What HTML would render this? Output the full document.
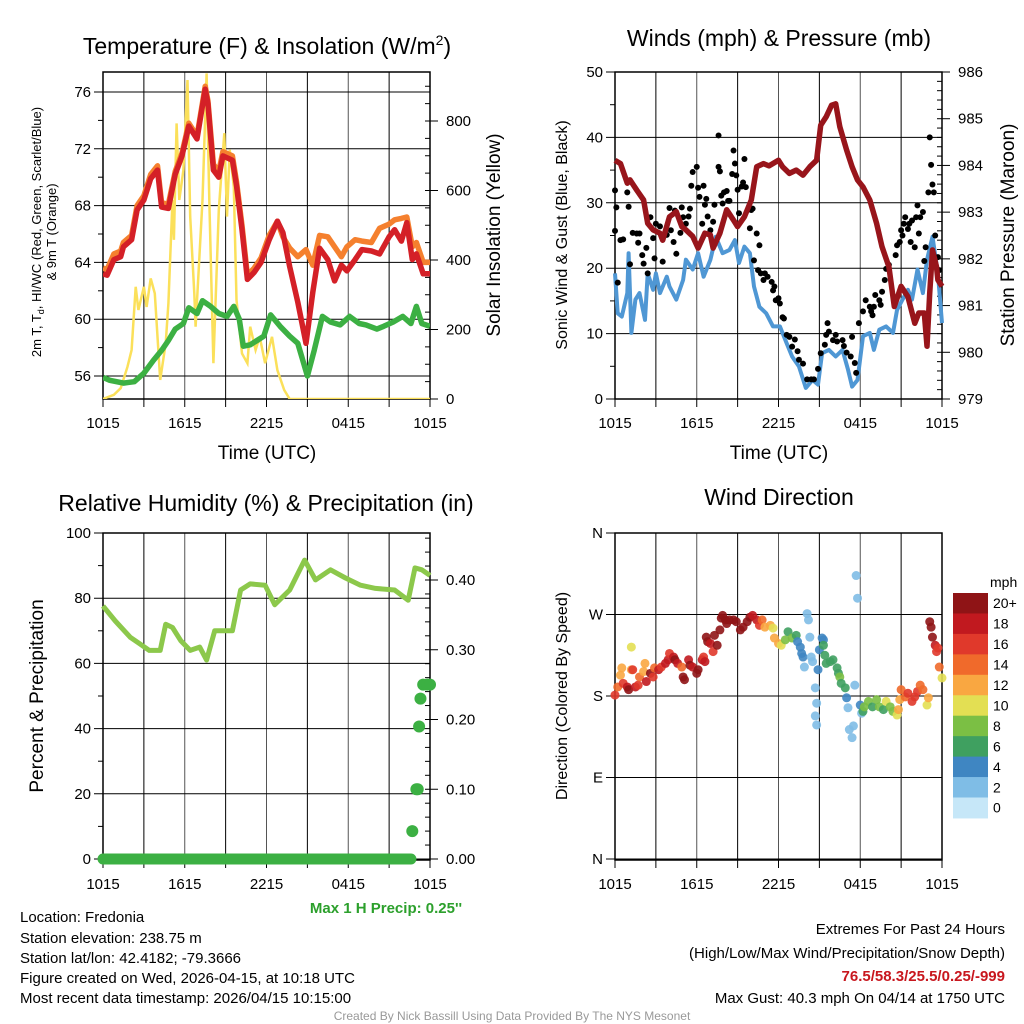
<!DOCTYPE html>
<html><head><meta charset="utf-8"><style>
body{margin:0;background:#fff}
svg{display:block;font-family:"Liberation Sans",Arial,sans-serif}
</style></head><body>
<svg id="s" width="1024" height="1024" viewBox="0 0 1024 1024">
<text x="267" y="54" font-size="23" text-anchor="middle">Temperature (F) &amp; Insolation (W/m<tspan font-size="14" dy="-9">2</tspan><tspan dy="9">)</tspan></text>
<text x="779" y="46" font-size="23" text-anchor="middle">Winds (mph) &amp; Pressure (mb)</text>
<text x="266" y="511" font-size="23" text-anchor="middle">Relative Humidity (%) &amp; Precipitation (in)</text>
<text x="779" y="505" font-size="23" text-anchor="middle">Wind Direction</text>

<text transform="translate(41,232) rotate(-90)" font-size="13" text-anchor="middle">2m T, T<tspan font-size="9" dy="3">d</tspan><tspan dy="-3">, HI/WC (Red, Green, Scarlet/Blue)</tspan></text>
<text transform="translate(56,232) rotate(-90)" font-size="13" text-anchor="middle">&amp; 9m T (Orange)</text>
<text transform="translate(500,235) rotate(-90)" font-size="19" text-anchor="middle">Solar Insolation (Yellow)</text>
<text transform="translate(567,235) rotate(-90)" font-size="16" text-anchor="middle">Sonic Wind &amp; Gust (Blue, Black)</text>
<text transform="translate(1014,235) rotate(-90)" font-size="19" text-anchor="middle">Station Pressure (Maroon)</text>
<text transform="translate(43,696) rotate(-90)" font-size="19" text-anchor="middle">Percent &amp; Precipitation</text>
<text transform="translate(567,696) rotate(-90)" font-size="16" text-anchor="middle">Direction (Colored By Speed)</text>
<text x="267" y="459" font-size="19" text-anchor="middle">Time (UTC)</text>
<text x="779" y="459" font-size="19" text-anchor="middle">Time (UTC)</text>

<text x="386" y="913" font-size="15" font-weight="bold" fill="#2ca02c" text-anchor="middle">Max 1 H Precip: 0.25''</text>
<g font-size="15">
<text x="20" y="922">Location: Fredonia</text>
<text x="20" y="943">Station elevation: 238.75 m</text>
<text x="20" y="963">Station lat/lon: 42.4182; -79.3666</text>
<text x="20" y="983">Figure created on Wed, 2026-04-15, at 10:18 UTC</text>
<text x="20" y="1003">Most recent data timestamp: 2026/04/15 10:15:00</text>
</g>
<g font-size="15" text-anchor="end">
<text x="1005" y="934">Extremes For Past 24 Hours</text>
<text x="1005" y="958">(High/Low/Max Wind/Precipitation/Snow Depth)</text>
<text x="1005" y="981" font-weight="bold" fill="#c8171e">76.5/58.3/25.5/0.25/-999</text>
<text x="1005" y="1003">Max Gust: 40.3 mph On 04/14 at 1750 UTC</text>
</g>
<text x="512" y="1020" font-size="12" fill="#999" text-anchor="middle">Created By Nick Bassill Using Data Provided By The NYS Mesonet</text>
</svg>
<script>
// ---- Temperature panel data (hours since 1015 UTC) ----
const tempHours=[0,0.3,0.8,1.3,1.5,2.1,2.5,3.0,3.5,4.0,4.3,4.8,5.3,5.8,6.3,6.9,7.5,7.7,8.1,8.5,8.8,9.5,9.8,10.2,10.6,11.1,11.6,12.2,12.8,13.2,13.7,14.3,14.9,15.4,15.9,16.5,17.0,17.5,17.9,18.5,19.0,19.7,20.3,21.0,21.4,21.9,22.3,22.7,23.0,23.5,24.0];
const tempRed=[63.2,63.1,64.2,64.4,65.1,65.6,67.7,68.4,69.9,70.5,67.9,67.8,70.2,71.5,73.6,72.7,76.2,75.2,70.5,70.0,71.5,71.2,69.4,66.3,62.8,63.3,64.0,65.6,66.9,66.1,63.7,61.2,58.3,61.9,65.0,64.2,62.7,63.8,63.4,64.2,64.9,64.8,64.6,65.8,66.3,65.5,66.8,64.2,64.6,63.2,63.2];
const tempOrange=[63.6,63.5,64.6,64.8,65.4,65.9,68.0,68.7,70.2,70.8,68.2,68.1,70.4,71.7,73.8,72.9,76.4,75.4,70.9,70.4,71.8,71.5,69.7,66.6,63.1,63.6,64.3,65.9,66.9,65.8,65.0,64.4,64.9,63.8,65.9,65.8,65.1,64.4,65.1,65.6,65.5,65.4,66.4,66.7,67.0,67.1,67.2,65.1,65.4,64.0,64.0];
const dewHours=[0,0.5,1.5,2.3,3.0,3.7,4.3,4.8,5.3,5.9,6.3,6.9,7.3,7.9,8.5,9.1,9.6,10.0,10.3,10.8,11.3,11.8,12.3,13.0,13.7,14.3,15.0,15.5,16.1,16.7,17.4,18.1,18.8,19.3,20.1,20.6,21.3,22.0,22.6,23.0,23.4,24.0];
const dewT=[55.9,55.7,55.5,55.6,56.2,57.1,57.8,58.5,59.3,59.7,60.8,60.4,61.3,60.9,60.4,60.2,60.9,60.0,58.1,58.2,58.5,58.8,60.3,59.5,58.8,58.3,56.0,57.8,60.2,59.8,59.6,60.2,59.7,59.6,59.3,59.5,59.8,60.2,59.7,60.9,59.7,59.5];
const solarHours=[0,0.8,1.3,1.8,2.1,2.4,2.6,3.0,3.2,3.5,3.8,4.2,4.6,4.8,5.1,5.2,5.4,5.6,5.9,6.2,6.4,6.7,6.8,7.3,7.6,7.8,8.1,8.5,8.9,9.1,9.3,9.6,9.8,10.2,10.6,10.8,11.2,11.5,11.9,12.4,12.8,13.3,13.7,24.0];
const solarW=[0,12,31,93,141,323,256,323,265,347,304,55,160,275,573,458,793,573,659,918,525,304,208,573,937,573,103,544,765,525,717,611,285,131,103,208,141,179,103,179,83,26,0,0];
const tempTicks=[56,60,64,68,72,76];
const solarTicks=[0,200,400,600,800];
const timeTickLabels=["1015","1615","2215","0415","1015"];
// ---- Wind panel data ----
const windHours=[0,0.2,0.5,0.9,1.0,1.2,1.5,1.8,2.2,2.4,2.8,3.0,3.3,3.8,4.0,4.5,5.0,5.2,5.7,6.1,6.5,7.0,7.4,7.9,8.4,8.8,9.1,9.5,9.9,10.2,10.6,11.1,11.6,12.1,12.6,13.0,13.5,14.0,14.5,14.9,15.2,15.7,16.2,16.7,17.1,17.4,17.8,18.2,18.7,19.0,19.4,19.9,20.4,20.7,21.1,21.5,21.8,22.2,22.6,22.9,23.3,23.7,24.0];
const windMph=[19.2,13.1,12.6,16.2,22.3,10.1,15.2,16.2,12.1,19.2,16.7,19.2,16.2,18.7,17.2,15.2,18.2,21.3,19.8,22.3,18.7,21.3,24.8,22.3,22.8,24.3,20.8,23.3,22.3,17.2,14.1,13.1,11.1,11.1,8.5,6.5,5.0,1.7,2.9,2.2,7.0,7.5,6.5,7.5,4.5,1.9,2.9,9.6,10.1,7.5,10.6,11.1,10.1,13.6,15.2,16.7,15.2,19.8,16.2,21.3,24.8,19.2,11.6];
const gustHours=[0.0,0.1,0.0,0.2,0.4,0.6,0.9,1.0,1.1,1.3,1.6,1.7,1.8,2.0,2.1,2.3,2.4,2.6,2.8,2.9,3.0,3.3,3.5,3.8,4.0,4.1,4.3,4.4,4.5,4.8,4.9,5.0,5.2,5.4,5.5,5.6,5.7,6.0,6.1,6.2,6.4,6.5,6.6,6.7,6.8,7.0,7.2,7.3,7.6,7.6,7.7,7.8,7.9,8.0,8.2,8.3,8.4,8.6,8.7,8.8,8.9,9.0,9.1,9.3,9.4,9.5,9.6,9.9,10.0,10.1,10.2,10.4,10.5,10.6,10.7,10.9,11.0,11.2,11.5,11.6,11.7,11.8,12.0,12.1,12.3,12.4,12.6,12.8,13.0,13.2,13.4,13.5,13.8,14.1,14.4,14.6,14.9,15.1,15.4,15.5,15.6,15.7,16.0,16.2,16.3,16.7,16.8,17.0,17.3,17.4,17.6,17.7,17.9,18.2,18.4,18.7,18.8,18.9,19.0,19.1,19.4,19.5,19.6,19.8,19.9,20.1,20.6,20.7,20.9,21.0,21.1,21.2,21.3,21.5,21.6,21.7,21.8,22.0,22.1,22.2,22.3,22.4,22.6,22.7,22.8,23.0,23.1,23.2,23.3,23.4,23.5,23.7,23.8];
const gustMph=[31.9,29.3,25.7,17.8,24.3,24.4,31.6,29.4,20.6,25.4,25.3,23.9,25.3,22.0,20.7,23.1,19.2,27.8,24.6,21.5,26.8,26.4,21.0,25.1,29.2,25.8,24.0,28.8,22.2,25.4,29.3,27.8,26.8,27.9,29.1,32.6,34.7,35.5,32.3,30.9,26.8,32.6,29.7,30.6,27.9,25.8,27.1,29.7,40.3,35.5,34.8,31.1,29.9,31.6,31.8,30.3,30.3,34.4,38.0,36.0,34.2,32.0,28.4,32.5,33.1,36.7,32.4,26.1,28.9,29.1,21.2,25.3,19.7,23.5,19.2,18.2,19.2,18.7,17.9,16.6,17.2,15.1,15.4,14.6,12.5,12.3,9.8,9.5,8.0,9.1,7.3,6.0,5.4,3.0,3.0,3.0,4.6,7.0,8.3,9.8,11.6,10.3,9.0,9.8,8.8,9.0,8.1,7.1,6.5,9.5,5.5,4.0,11.6,13.4,15.1,14.1,13.4,12.8,14.1,15.9,15.1,14.4,16.4,18.2,19.9,20.5,22.0,23.5,24.0,25.8,25.0,26.8,27.8,26.0,26.8,24.0,27.3,23.2,27.8,29.6,25.3,27.8,28.6,21.1,23.2,31.6,40.0,35.8,32.8,31.6,25.0,21.7,19.7];
const presHours=[0,0.4,0.9,1.1,1.6,2.1,2.4,2.8,3.3,3.5,4.0,4.5,4.9,5.2,5.7,6.1,6.6,7.0,7.2,7.7,8.2,8.7,9.0,9.5,10.0,10.4,10.9,11.3,12.0,12.3,12.8,13.3,13.8,14.3,14.8,15.1,15.5,15.9,16.2,16.5,17.0,17.4,17.8,18.2,18.7,19.2,19.6,20.1,20.5,21.0,21.5,22.0,22.3,22.7,22.9,23.1,23.3,23.6,23.7,24.0];
const presMb=[984.11,984.04,983.62,983.69,983.47,983.26,982.76,982.62,982.55,982.40,982.90,983.01,982.69,982.62,982.48,982.23,982.55,982.51,982.23,982.55,983.05,982.83,982.69,982.90,983.26,983.97,984.04,983.99,984.11,983.97,983.83,983.90,983.79,983.97,984.11,984.86,985.04,985.29,985.32,984.83,984.33,983.97,983.69,983.54,983.26,982.76,982.26,981.83,980.98,981.41,981.19,980.62,980.84,980.84,980.13,981.26,982.19,981.83,981.55,981.41];
const windTicks=[0,10,20,30,40,50];
const presTicks=[979,980,981,982,983,984,985,986];
// ---- RH / precip ----
const rhHours=[0,0.9,2.0,2.7,3.4,4.2,4.6,5.1,5.7,6.4,7.1,7.6,8.2,8.7,9.5,10.1,10.8,11.9,12.6,13.7,14.8,15.6,16.7,17.8,18.9,20.0,21.4,22.4,22.9,23.4,24.0];
const rhPct=[77.6,73,68,66,64,64,72,71,67,64,65,61,70,70,70,82.5,84.4,84,78,82.5,91.7,85.6,88.7,86.2,84,83,82.5,79.4,89.3,88.7,87];
const precipHours=[22.7,23.0,23.1,23.2,23.3,23.5,23.8,24.0];
const precipIn=[0.04,0.10,0.10,0.19,0.23,0.26,0.26,0.26];
const rhTicks=[0,20,40,60,80,100];
const precipTicks=[0,0.1,0.2,0.3,0.4];
const precipTickLabels=["0.00","0.10","0.20","0.30","0.40"];
// ---- Wind direction (degrees) with speed ----
const dirHours=[0.0,0.2,0.4,0.5,0.6,0.9,1.0,1.2,1.2,1.3,1.5,1.7,1.8,2.1,2.2,2.3,2.6,2.8,2.9,3.2,3.4,3.7,3.9,4.0,4.3,4.4,4.6,4.9,5.0,5.1,5.4,5.5,5.7,6.0,6.1,6.4,6.5,6.6,6.7,6.8,7.0,7.2,7.3,7.5,7.7,7.8,7.9,8.1,8.2,8.4,8.7,8.9,9.2,9.4,9.7,9.9,10.1,10.4,10.6,10.8,11.0,11.4,11.6,11.7,12.0,12.2,12.5,12.7,13.0,13.3,13.4,13.6,13.7,13.8,13.9,14.1,14.2,14.3,14.4,14.5,14.7,14.8,14.7,14.8,14.9,15.0,15.2,15.3,15.3,15.4,15.5,15.8,16.0,16.3,16.4,16.5,16.6,16.9,17.0,17.1,17.2,17.5,17.4,17.6,17.7,17.8,18.0,18.1,18.2,18.3,18.6,18.9,19.2,19.4,19.7,19.9,20.2,20.4,20.7,20.8,20.9,21.0,21.3,21.5,21.8,22.0,22.2,22.4,22.6,22.9,23.0,23.1,23.2,23.3,23.5,23.6,23.7,23.8,24.0];
const dirDeg=[181,190,203,211,194,190,187,209,234,209,190,192,201,207,216,196,205,201,211,209,212,216,220,227,223,220,216,212,201,198,220,214,212,205,209,220,223,218,245,240,238,229,247,236,253,266,269,264,260,264,264,262,253,256,262,267,269,264,258,264,256,258,255,244,238,236,242,251,244,247,240,234,227,223,212,271,264,245,223,218,189,172,158,148,209,231,244,242,236,225,216,218,220,211,205,201,194,189,178,167,143,147,134,192,313,288,170,161,163,168,174,168,176,168,165,174,168,163,159,165,176,187,179,183,174,179,185,192,187,170,178,262,256,245,236,229,233,212,200];
const dirSpeed=[17,14,12,12,16,18,20,12,10,16,18,16,14,12,12,18,20,16,14,18,16,18,18,17,18,20,18,14,20,20,18,20,18,20,20,18,16,18,20,20,18,16,20,20,20,20,20,20,20,20,20,20,20,20,20,20,18,18,16,14,12,12,10,12,12,10,8,7,8,7,5,5,5,4,3,3,3,3,3,3,3,3,3,3,4,4,5,5,6,6,6,7,6,6,6,8,6,6,4,3,3,3,3,3,3,3,4,3,7,8,9,6,8,8,7,11,9,9,10,12,13,14,15,16,16,16,17,15,14,10,12,20,20,20,18,16,17,14,10];
const speedBins=["0","2","4","6","8","10","12","14","16","18","20+"];
const speedColors=["#c6e7f8","#7fbde6","#3f86c2","#3fa060","#7bbf44","#e3df53","#f9a741","#f06a2b","#e0392b","#c1191f","#8f1416"];
const dirTicks=[0,90,180,270,360];
const dirTickLabels=["N","E","S","W","N"];

const NS="http://www.w3.org/2000/svg";
const svg=document.getElementById('s');
function mk(tag,attrs,parent){const e=document.createElementNS(NS,tag);for(const k in attrs)e.setAttribute(k,attrs[k]);(parent||svg).appendChild(e);return e;}
function linScale(d0,d1,r0,r1){return v=>r0+(v-d0)*(r1-r0)/(d1-d0);}
function pathD(xs,ys,fx,fy){return xs.map((h,i)=>(i?'L':'M')+fx(h).toFixed(1)+' '+fy(ys[i]).toFixed(1)).join(' ');}

function panelFrame(name,L,R,T,B,fx,leftTicks,fy,leftLabels,showTimeLabels){
  const g=mk('g',{});
  
  
  for(let h=3;h<24;h+=3){const x=fx(h);mk('line',{x1:x,y1:T,x2:x,y2:B,stroke:(h%6==0)?'#555':'#000','stroke-width':1},g);}
  leftTicks.forEach((v,i)=>{const y=fy(v);mk('line',{x1:L-9,y1:y,x2:R,y2:y,stroke:'#000','stroke-width':1},g);
    const t=mk('text',{x:L-12,y:y+5,'font-size':15,'text-anchor':'end'},g);t.textContent=leftLabels[i];
    });
  for(let h=0;h<=24;h+=3){const x=fx(h);mk('line',{x1:x,y1:B,x2:x,y2:B+8,stroke:'#000','stroke-width':1},g);}
  if(showTimeLabels){timeTickLabels.forEach((lab,i)=>{const t=mk('text',{x:fx(i*6),y:B+29,'font-size':15,'text-anchor':'middle'},g);t.textContent=lab;
    });}
  mk('rect',{x:L,y:T,width:R-L,height:B-T,fill:'none',stroke:'#000','stroke-width':1.5},g);
  return g;
}
function rightAxis(L,R,T,B,ticks,labels,fy,minorStep,minorMin,minorMax){
  const g=mk('g',{});
  
  
  for(let v=minorMin;v<=minorMax+1e-9;v+=minorStep){const y=fy(v);if(y<T-0.5)continue;mk('line',{x1:R-5,y1:y,x2:R,y2:y,stroke:'#000'},g);}
  ticks.forEach((v,i)=>{const y=fy(v);mk('line',{x1:R,y1:y,x2:R+8,y2:y,stroke:'#000'},g);
    const t=mk('text',{x:R+16,y:y+5,'font-size':15},g);t.textContent=labels[i];
    });
}

// Panel 1
{const L=103,R=430,T=72,B=399;
 const fx=linScale(0,24,L,R), fy=linScale(76,56,92,376), fs=linScale(0,800,399,121);
 panelFrame('temp',L,R,T,B,fx,tempTicks,fy,tempTicks.map(String),true);
 for(let v=58;v<=76;v+=4){mk('line',{x1:L-5,y1:fy(v),x2:L,y2:fy(v),stroke:'#000'});}
 rightAxis(L,R,T,B,solarTicks,solarTicks.map(String),fs,50,0,950);
 const clip=mk('clipPath',{id:'c1'});mk('rect',{x:L,y:T,width:R-L,height:B-T},clip);
 const s=mk('path',{d:pathD(solarHours,solarW,fx,fs),fill:'none',stroke:'#fbe05a','stroke-width':2.5,'clip-path':'url(#c1)'});
 
 const o=mk('path',{d:pathD(tempHours,tempOrange,fx,fy),fill:'none',stroke:'#f5802e','stroke-width':5.5,'stroke-linejoin':'round','clip-path':'url(#c1)'});
 
 const r=mk('path',{d:pathD(tempHours,tempRed,fx,fy),fill:'none',stroke:'#d42027','stroke-width':5.5,'stroke-linejoin':'round','clip-path':'url(#c1)'});
 
 const d=mk('path',{d:pathD(dewHours,dewT,fx,fy),fill:'none',stroke:'#3cb043','stroke-width':5.5,'stroke-linejoin':'round','clip-path':'url(#c1)'});
 
}
// Panel 2
{const L=615,R=942,T=72,B=399;
 const fx=linScale(0,24,L,R), fy=linScale(0,50,399,72), fp=linScale(979,986,399,72);
 panelFrame('wind',L,R,T,B,fx,windTicks,fy,windTicks.map(String),true);
 for(let v=5;v<=45;v+=10){mk('line',{x1:L-5,y1:fy(v),x2:L,y2:fy(v),stroke:'#000'});}
 rightAxis(L,R,T,B,presTicks,presTicks.map(String),fp,0.2,979,986);
 const w=mk('path',{d:pathD(windHours,windMph,fx,fy),fill:'none',stroke:'#4f97d4','stroke-width':4,'stroke-linejoin':'round'});
 
 gustHours.forEach((h,i)=>{const c=mk('circle',{cx:fx(h),cy:fy(gustMph[i]),r:3,fill:'#000'});
   });
 const p=mk('path',{d:pathD(presHours,presMb,fx,fp),fill:'none',stroke:'#98151b','stroke-width':5.5,'stroke-linejoin':'round'});
 
}
// Panel 3
{const L=103,R=430,T=533,B=860;
 const fx=linScale(0,24,L,R), fy=linScale(0,100,859,533), fp=linScale(0,0.4,859,580);
 panelFrame('rh',L,R,T,B,fx,rhTicks,fy,rhTicks.map(String),true);
 for(let v=10;v<=90;v+=20){mk('line',{x1:L-5,y1:fy(v),x2:L,y2:fy(v),stroke:'#000'});}
 rightAxis(L,R,T,B,precipTicks,precipTickLabels,fp,0.02,0,0.46);
 const h=mk('path',{d:pathD(rhHours,rhPct,fx,fy),fill:'none',stroke:'#8cc84b','stroke-width':5,'stroke-linejoin':'round'});
 
 const z=mk('line',{x1:fx(0),y1:fp(0),x2:fx(22.6),y2:fp(0),stroke:'#3cb043','stroke-width':11,'stroke-linecap':'round'});
 
 precipHours.forEach((hh,i)=>{const c=mk('circle',{cx:fx(hh),cy:fp(Math.min(precipIn[i],0.25)),r:6,fill:'#3cb043'});
   });
}
// Panel 4
{const L=615,R=942,T=533,B=860;
 const fx=linScale(0,24,L,R), fy=linScale(0,360,859,533);
 panelFrame('direction',L,R,T,B,fx,dirTicks,fy,dirTickLabels,true);
 dirHours.forEach((h,i)=>{const bin=Math.min(10,Math.floor(dirSpeed[i]/2));
   const c=mk('circle',{cx:fx(h),cy:fy(dirDeg[i]),r:4.5,fill:speedColors[bin],'fill-opacity':0.9});
   });
 const cb=mk('g',{});
 
 const t=mk('text',{x:990,y:587,'font-size':14},cb);t.textContent='mph';
 const top=593,bh=20.45;
 speedBins.forEach((lab,i)=>{const k=10-i;const y=top+i*bh;
   mk('rect',{x:953,y:y,width:35,height:bh+0.5,fill:speedColors[k]},cb);
   const tx=mk('text',{x:993,y:y+bh/2+5,'font-size':14},cb);tx.textContent=speedBins[k];});
}
</script>
</body></html>
